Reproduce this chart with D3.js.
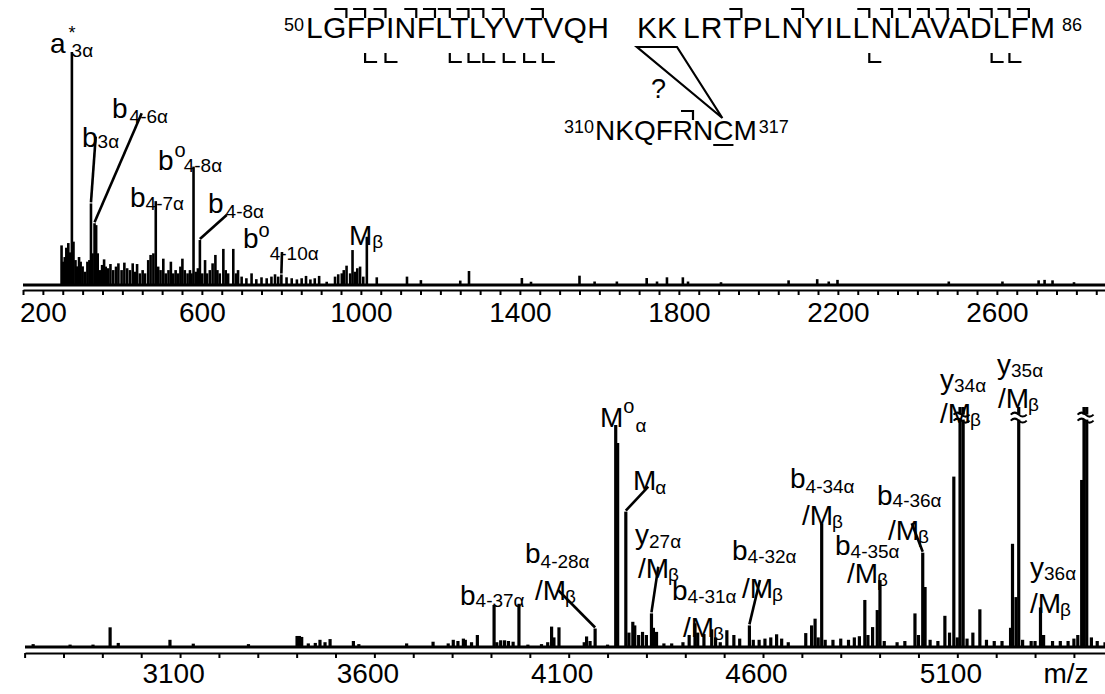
<!DOCTYPE html>
<html>
<head>
<meta charset="utf-8">
<script src="https://cdn.jsdelivr.net/npm/d3@7/dist/d3.min.js"></script>
<style>
  body { margin: 0; background: #fff; }
  svg { display: block; font-family: "Liberation Sans", Arial, sans-serif; }
</style>
</head>
<body>
<section></section>
<script>

// ---- Data ----

// Tick labels.
var topTickLabels = [200, 600, 1000, 1400, 1800, 2200, 2600];
var bottomTickLabels = [3100, 3600, 4100, 4600, 5100];

// Top spectrum, [m/z, relative intensity].
var topPeaks = [
    [247, 17], [251, 10], [255, 12], [259, 16], [264, 18], [268, 14], [273, 100], [277, 18.6],
    [282, 10.7], [286, 8], [291, 12], [295, 10], [300, 8], [306, 5.7], [312, 10], [317, 10.7],
    [321, 35], [325, 13.6], [330, 26.5], [334, 25.7], [338, 13.6], [343, 6.4], [349, 8.6], [354, 11],
    [358, 7.9], [364, 7.2], [370, 9], [377, 6.4], [384, 7.9], [390, 9.3], [398, 6.4], [405, 9.6],
    [412, 7.2], [419, 6.4], [426, 9.3], [432, 5.7], [437, 9], [444, 5], [451, 6.4], [457, 5],
    [465, 10.7], [471, 12.9], [478, 13.6], [484, 36], [490, 7.9], [496, 6.4], [503, 11.3], [509, 5],
    [516, 6.4], [522, 10], [528, 5], [534, 6.4], [540, 5], [546, 7.9], [551, 11.3], [557, 6.4],
    [564, 5], [570, 6.4], [574, 5], [579, 50.8], [585, 5.7], [590, 7.2], [595, 19.3], [601, 5],
    [608, 10.7], [613, 5], [620, 6.4], [627, 9.3], [634, 12.9], [639, 6.4], [645, 5], [654, 15.5],
    [660, 6.4], [666, 5], [679, 15.5], [686, 5], [691, 6.4], [700, 3.6], [712, 2.9], [725, 5],
    [737, 2.5], [750, 3.3], [763, 2.9], [775, 3.6], [784, 4.6], [792, 3.6], [800, 4.5], [813, 3.3],
    [826, 2.9], [839, 2.4], [851, 2.9], [862, 3.9], [873, 2.4], [884, 2.9], [895, 3.9], [914, 1.4],
    [935, 3.6], [943, 4.6], [952, 5], [957, 6.4], [964, 8.3], [973, 5], [979, 15], [985, 5.7],
    [991, 7.2], [998, 7.9], [1006, 3.6], [1015, 20.7], [1040, 3.3], [1116, 3.6], [1151, 2.1], [1250, 1.9],
    [1272, 6], [1405, 3], [1428, 1.4], [1550, 4], [1588, 1.5], [1644, 1.5], [1719, 3], [1745, 1.5],
    [1770, 3.3], [1810, 3.3], [1823, 1.5], [1906, 1.2], [2076, 2], [2148, 2.5], [2177, 1.5], [2199, 2.2],
    [2479, 1.5], [2614, 1.5], [2705, 2], [2720, 2.2], [2740, 2], [2794, 1.2]
];

// Bottom spectrum, [m/z, relative intensity]; 100 = clipped peak.
var bottomPeaks = [
    [2722, 1.2], [2817, 1], [2876, 1], [2920, 8.2], [2941, 1.7], [3074, 3], [3134, 1.4], [3276, 1.2],
    [3401, 4.6], [3407, 4.6], [3413, 4.2], [3430, 1.5], [3448, 1.7], [3460, 3], [3473, 2], [3486, 3.3],
    [3546, 2.5], [3560, 1.2], [3683, 1.5], [3751, 2.2], [3790, 1.5], [3803, 3], [3815, 2.5], [3829, 3.5],
    [3834, 3], [3850, 2], [3865, 5], [3908, 17.5], [3915, 2], [3925, 2.8], [3935, 2.8], [3945, 2.5],
    [3957, 2.2], [3972, 18], [3995, 1], [4030, 1.2], [4046, 2], [4056, 8.5], [4062, 4], [4075, 8.2],
    [4140, 2], [4146, 4.4], [4155, 2.5], [4168, 7.7], [4200, 1], [4221, 92.5], [4226, 85], [4247, 56.4],
    [4255, 6], [4265, 10.5], [4270, 9], [4280, 5], [4290, 6.3], [4300, 5], [4313, 14], [4318, 8],
    [4326, 6.3], [4345, 1.5], [4365, 1.5], [4394, 2], [4410, 5], [4425, 9.9], [4432, 6], [4448, 5.4],
    [4468, 7.4], [4478, 4], [4490, 2], [4507, 7], [4525, 5], [4540, 3.5], [4565, 9], [4575, 3],
    [4590, 3], [4605, 3.5], [4620, 4], [4635, 5.3], [4648, 3.5], [4665, 2], [4710, 5.8], [4725, 9],
    [4734, 11.8], [4742, 4], [4751, 51.5], [4760, 3], [4780, 3], [4800, 3.5], [4820, 3], [4835, 4],
    [4848, 4.5], [4862, 19.6], [4870, 5], [4882, 8.3], [4894, 15.4], [4901, 27.9], [4912, 2.5], [4945, 2],
    [4965, 2.5], [4991, 14], [5000, 5], [5011, 39.3], [5017, 25], [5030, 3], [5050, 2.5], [5068, 13],
    [5080, 6], [5091, 71], [5100, 4], [5107, 100], [5115, 100], [5125, 3.5], [5140, 6], [5158, 15.7],
    [5175, 3], [5195, 2.5], [5215, 2.5], [5237, 8], [5242, 43], [5251, 20.8], [5258, 100], [5268, 3],
    [5290, 2.5], [5300, 2.5], [5314, 16.5], [5322, 5], [5345, 2.5], [5365, 2.5], [5385, 2.5], [5400, 3.5],
    [5410, 5], [5420, 69.6], [5426, 100], [5433, 100], [5445, 4], [5460, 2.5], [5480, 2]
];

// Clipped peaks that get a break mark.
var brokenPeaks = [5111, 5258, 5430];

// Peptide sequences and fragment sites (cleavage after residue n).
var alphaStart = 50;
var alphaSeq1 = "LGFPINFLTLYVTVQH";
var alphaSeq2 = "KK";
var alphaSeq3 = "LRTPLNYILLNLAVADLFM";
var alphaBSites = [51, 52, 53, 55, 56, 57, 58, 59, 60, 62, 70, 73, 77, 78, 79, 80, 81, 82, 83, 84, 85];
var alphaYSites = [52, 53, 57, 58, 59, 60, 61, 62, 77, 83, 84];
var betaStart = 310;
var betaSeq = "NKQFRNCM";
var betaBSites = [314];

// Peak annotations: [text, font size, baseline offset, dx].
var topLabels = [
    { x: 50, y: 53, parts: [["a", 28, 0], ["*", 18, -14, 3], ["3\u03b1", 19, 4, -4]] },
    { x: 82, y: 147, parts: [["b", 28, 0], ["3\u03b1", 19, 1]] },
    { x: 112, y: 118, parts: [["b", 28, 0], ["4-6\u03b1", 19, 5, 2]] },
    { x: 130, y: 207, parts: [["b", 28, 0], ["4-7\u03b1", 19, 3]] },
    { x: 158, y: 170, parts: [["b", 28, 0], ["o", 20, -13, 1], ["4-8\u03b1", 19, 2, -2]] },
    { x: 208, y: 213, parts: [["b", 28, 0], ["4-8\u03b1", 19, 5, 2]] },
    { x: 243, y: 248, parts: [["b", 28, 0], ["o", 20, -11], ["4-10\u03b1", 19, 12]] },
    { x: 349, y: 245, parts: [["M", 28, 0], ["\u03b2", 19, 3, 0]] }
];
var bottomLabels = [
    { x: 460, y: 605, parts: [["b", 28, 0], ["4-37\u03b1", 19, 2]] },
    { x: 525, y: 563, parts: [["b", 28, 0], ["4-28\u03b1", 19, 5]] },
    { x: 535, y: 600, parts: [["/M", 28, 0], ["\u03b2", 19, 3, -1]] },
    { x: 600, y: 427, parts: [["M", 28, 0], ["o", 20, -14], ["\u03b1", 19, 5, 1]] },
    { x: 633, y: 490, parts: [["M", 28, 0], ["\u03b1", 19, 4, -1]] },
    { x: 635, y: 544, parts: [["y", 28, 0], ["27\u03b1", 19, 4]] },
    { x: 638, y: 578, parts: [["/M", 28, 0], ["\u03b2", 19, 3, -1]] },
    { x: 672, y: 600, parts: [["b", 28, 0], ["4-31\u03b1", 19, 3]] },
    { x: 683, y: 637, parts: [["/M", 28, 0], ["\u03b2", 19, 3, -1]] },
    { x: 732, y: 560, parts: [["b", 28, 0], ["4-32\u03b1", 19, 3]] },
    { x: 742, y: 598, parts: [["/M", 28, 0], ["\u03b2", 19, 3, -1]] },
    { x: 790, y: 488, parts: [["b", 28, 0], ["4-34\u03b1", 19, 5]] },
    { x: 802, y: 525, parts: [["/M", 28, 0], ["\u03b2", 19, 3, -1]] },
    { x: 835, y: 555, parts: [["b", 28, 0], ["4-35\u03b1", 19, 3]] },
    { x: 847, y: 583, parts: [["/M", 28, 0], ["\u03b2", 19, 3, -1]] },
    { x: 877, y: 505, parts: [["b", 28, 0], ["4-36\u03b1", 19, 2]] },
    { x: 888, y: 540, parts: [["/M", 28, 0], ["\u03b2", 19, 3, -1]] },
    { x: 940, y: 389, parts: [["y", 28, 0], ["34\u03b1", 19, 3]] },
    { x: 940, y: 423, parts: [["/M", 28, 0], ["\u03b2", 19, 3, -1]] },
    { x: 997, y: 374, parts: [["y", 28, 0], ["35\u03b1", 19, 3]] },
    { x: 998, y: 408, parts: [["/M", 28, 0], ["\u03b2", 19, 3, -1]] },
    { x: 1030, y: 577, parts: [["y", 28, 0], ["36\u03b1", 19, 3]] },
    { x: 1030, y: 613, parts: [["/M", 28, 0], ["\u03b2", 19, 3, -1]] }
];

// Leader lines: label end point (px) -> peak m/z.
var topLeaders = [[[95.7, 136.7], 321], [[141.7, 113.3], 330], [[226.7, 215], 595], [[282, 252], 800]];
var bottomLeaders = [[[648.3, 486.7], 4247], [[658.3, 566.7], 4313], [[558, 590], 4168],
    [[760, 580], 4565], [[911.7, 523.3], 5011]];


// ---- Setup ----
var width = 1105, height = 694;
var fontFamily = "'Liberation Sans', Arial, sans-serif";

var svg = d3.select("section").append("svg")
    .attr("width", width)
    .attr("height", height);

svg.append("rect").attr("width", width).attr("height", height).attr("fill", "#fff");

// Scales.
var xTop = d3.scaleLinear().domain([150, 2872]).range([23, 1105]);
var yTop = d3.scaleLinear().domain([0, 100]).range([285, 52]);
var xBot = d3.scaleLinear().domain([2701, 5480]).range([25, 1105]);
var yBot = d3.scaleLinear().domain([0, 100]).range([647, 407]);


// ---- Spectra ----
function drawSpectrum(peaks, x, y, sw) {
    var g = svg.append("g");
    g.append("line")
        .attr("x1", x.range()[0]).attr("x2", x.range()[1])
        .attr("y1", y(0)).attr("y2", y(0))
        .attr("stroke", "#000").attr("stroke-width", 3);
    g.selectAll("line.peak")
        .data(peaks)
        .enter()
        .append("line")
        .attr("class", "peak")
        .attr("x1", function (d) { return x(d[0]); })
        .attr("x2", function (d) { return x(d[0]); })
        .attr("y1", y(0))
        .attr("y2", function (d) { return y(d[1]); })
        .attr("stroke", "#000")
        .attr("stroke-width", sw);
    return g;
}

drawSpectrum(topPeaks, xTop, yTop, 2.6);
var gBot = drawSpectrum(bottomPeaks, xBot, yBot, 3.2);

// Break marks on clipped peaks.
brokenPeaks.forEach(function (mz) {
    var cx = xBot(mz), cy = yBot(96);
    gBot.append("rect").attr("x", cx - 8).attr("y", cy - 2).attr("width", 16).attr("height", 5).attr("fill", "#fff");
    [cy - 3, cy + 3].forEach(function (yy) {
        gBot.append("path")
            .attr("d", "M" + (cx - 8) + "," + (yy + 1) + " q4,-4 8,0 t8,0")
            .attr("fill", "none").attr("stroke", "#000").attr("stroke-width", 2);
    });
});


// ---- Axes ----
function drawAxis(x, ty, minor, labels, pad, dx) {
    var a = svg.append("g")
        .attr("transform", "translate(0," + ty + ")")
        .call(d3.axisBottom(x).tickValues(minor).tickSize(5).tickSizeOuter(0).tickFormat(""));
    a.selectAll("path, line").attr("stroke", "#000").attr("stroke-width", 2);

    var l = svg.append("g")
        .attr("transform", "translate(0," + ty + ")")
        .call(d3.axisBottom(x).tickValues(labels).tickSize(0).tickPadding(pad).tickFormat(d3.format("d")));
    l.select(".domain").remove();
    l.attr("font-family", fontFamily).attr("font-size", 28);
    l.selectAll("text").attr("fill", "#000").attr("dx", dx);
}

drawAxis(xTop, 290, d3.range(150, 2872, 50), topTickLabels, 12, 0);
drawAxis(xBot, 653, d3.range(2700, 5481, 100), bottomTickLabels, 10, -7);

svg.append("text")
    .attr("x", 1066).attr("y", 683)
    .attr("text-anchor", "middle")
    .attr("font-family", fontFamily).attr("font-size", 28)
    .text("m/z");


// ---- Peak labels ----
function drawLabel(lab) {
    var t = svg.append("text")
        .attr("x", lab.x).attr("y", lab.y)
        .attr("font-family", fontFamily);
    var prev = 0;
    lab.parts.forEach(function (p) {
        t.append("tspan")
            .attr("font-size", p[1])
            .attr("dy", p[2] - prev)
            .attr("dx", p[3] || 0)
            .text(p[0]);
        prev = p[2];
    });
}
topLabels.forEach(drawLabel);
bottomLabels.forEach(drawLabel);

function drawLeaders(list, x, y, peaks) {
    list.forEach(function (ld) {
        var pk = peaks.filter(function (d) { return d[0] == ld[1]; })[0];
        svg.append("line")
            .attr("x1", ld[0][0]).attr("y1", ld[0][1])
            .attr("x2", x(pk[0])).attr("y2", y(pk[1]) - 1)
            .attr("stroke", "#000").attr("stroke-width", 2.6);
    });
}
drawLeaders(topLeaders, xTop, yTop, topPeaks);
drawLeaders(bottomLeaders, xBot, yBot, bottomPeaks);


// ---- Sequence with fragment marks ----
var gSeq = svg.append("g").attr("font-family", fontFamily);

function seqText(x, y, s, size, len) {
    var t = gSeq.append("text").attr("x", x).attr("y", y).attr("font-size", size).text(s);
    if (len) t.attr("textLength", len).attr("lengthAdjust", "spacing");
    return t;
}
var s1 = seqText(306, 38, alphaSeq1, 30, 303);
var s2 = seqText(637, 38, alphaSeq2, 30);
var s3 = seqText(683, 38, alphaSeq3, 30, 372);
var sb = seqText(595, 140, betaSeq, 28);

gSeq.append("text").attr("x", 304).attr("y", 31).attr("text-anchor", "end").attr("font-size", 18).text(alphaStart);
gSeq.append("text").attr("x", s3.node().getEndPositionOfChar(alphaSeq3.length - 1).x + 7).attr("y", 31)
    .attr("font-size", 18).text(alphaStart + alphaSeq1.length + alphaSeq2.length + alphaSeq3.length - 1);
gSeq.append("text").attr("x", 594).attr("y", 133).attr("text-anchor", "end").attr("font-size", 18).text(betaStart);
gSeq.append("text").attr("x", sb.node().getEndPositionOfChar(betaSeq.length - 1).x + 2).attr("y", 133)
    .attr("font-size", 18).text(betaStart + betaSeq.length - 1);

// x at the end of residue n of the alpha chain
function alphaEnd(n) {
    var i = n - alphaStart;
    if (i < alphaSeq1.length) return s1.node().getEndPositionOfChar(i).x;
    i -= alphaSeq1.length;
    if (i < alphaSeq2.length) return s2.node().getEndPositionOfChar(i).x;
    i -= alphaSeq2.length;
    return s3.node().getEndPositionOfChar(i).x;
}

function bMark(x, top) {
    gSeq.append("path").attr("d", "M" + (x - 12) + "," + top + "H" + x + "V" + (top + 9))
        .attr("fill", "none").attr("stroke", "#000").attr("stroke-width", 2.2);
}
function yMark(x, top) {
    gSeq.append("path").attr("d", "M" + x + "," + top + "V" + (top + 9) + "H" + (x + 12))
        .attr("fill", "none").attr("stroke", "#000").attr("stroke-width", 2.2);
}
alphaBSites.forEach(function (n) { bMark(alphaEnd(n), 9); });
alphaYSites.forEach(function (n) { yMark(alphaEnd(n), 53); });
betaBSites.forEach(function (n) {
    bMark(sb.node().getEndPositionOfChar(n - betaStart).x, 111);
});

// Cross-link: KK underline joined to the underlined C.
var kk0 = s2.node().getStartPositionOfChar(0).x;
var kk1 = s2.node().getEndPositionOfChar(1).x;
var ci = betaSeq.indexOf("C");
var c0 = sb.node().getStartPositionOfChar(ci).x;
var c1 = sb.node().getEndPositionOfChar(ci).x;
var tip = [(c0 + c1) / 2 - 1, 118];

gSeq.append("path")
    .attr("d", "M" + kk0 + "," + 47 + "H" + kk1 + "L" + tip[0] + "," + tip[1] + "Z")
    .attr("fill", "none").attr("stroke", "#000").attr("stroke-width", 2.2);
gSeq.append("line").attr("x1", c0).attr("x2", c1).attr("y1", 145).attr("y2", 145)
    .attr("stroke", "#000").attr("stroke-width", 2);
gSeq.append("text").attr("x", kk0 + 14).attr("y", 98).attr("font-size", 27).text("?");

</script>
</body>
</html>
